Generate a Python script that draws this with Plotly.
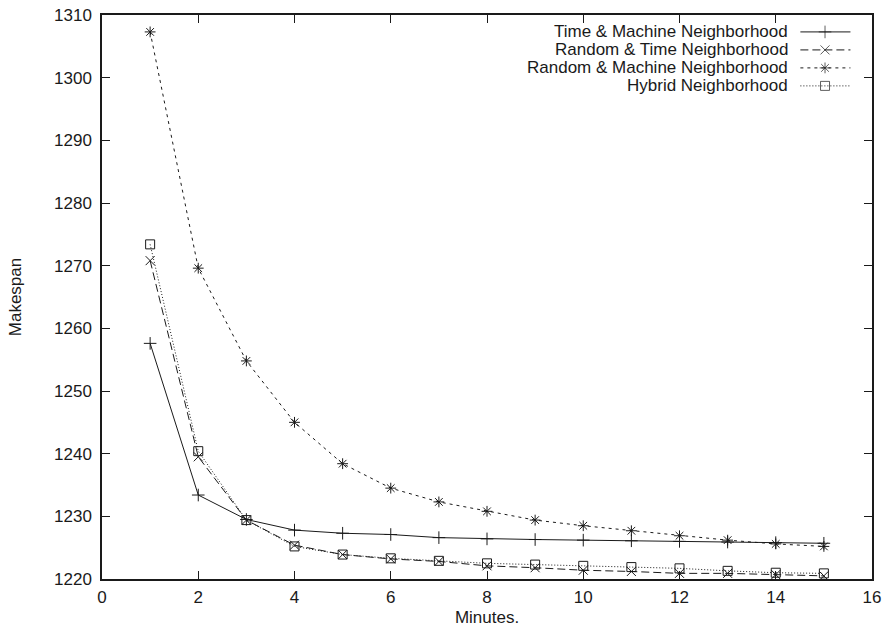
import plotly.graph_objects as go

minutes = list(range(1, 16))

time_machine = [1257.6, 1233.4, 1229.5, 1227.8, 1227.3, 1227.1, 1226.6, 1226.4,
                1226.3, 1226.2, 1226.1, 1226.0, 1225.9, 1225.8, 1225.7]
random_time = [1270.8, 1239.5, 1229.4, 1225.4, 1223.9, 1223.2, 1222.8, 1222.1,
               1221.8, 1221.4, 1221.2, 1220.9, 1220.9, 1220.7, 1220.5]
random_machine = [1307.3, 1269.6, 1254.8, 1245.0, 1238.4, 1234.5, 1232.3, 1230.8,
                  1229.4, 1228.5, 1227.7, 1226.9, 1226.2, 1225.6, 1225.2]
hybrid = [1273.4, 1240.4, 1229.4, 1225.2, 1223.9, 1223.3, 1222.9, 1222.5,
          1222.3, 1222.1, 1221.9, 1221.7, 1221.3, 1221.0, 1220.9]

series_names = ["Time & Machine Neighborhood", "Random & Time Neighborhood",
                "Random & Machine Neighborhood", "Hybrid Neighborhood"]
series_values = [time_machine, random_time, random_machine, hybrid]

x_ticks = list(range(0, 17, 2))
y_ticks = list(range(1220, 1311, 10))

INK = "#1a1a1a"
FONT = "Liberation Sans"
FS = 17
dashes = ["solid", "8px,4px", "3px,4px", "1px,2px"]
symbols = ["cross-thin-open", "x-thin-open", "asterisk-open", "square-open"]
sizes = [9, 9, 9, 9]

fig = go.Figure()
for name, vals, d, s, sz in zip(series_names, series_values, dashes, symbols, sizes):
    fig.add_trace(go.Scatter(
        x=minutes, y=vals, name=name, mode="lines+markers",
        line=dict(color=INK, width=1, dash=d),
        marker=dict(symbol=s, size=sz, color=INK, line=dict(color=INK, width=1)),
        showlegend=False,
    ))

# hand-drawn legend (text left of the sample, as in the reference)
leg_rows = [0.9700, 0.9381, 0.9062, 0.8743]
for name, yy, d, s, sz in zip(series_names, leg_rows, dashes, symbols, sizes):
    fig.add_trace(go.Scatter(
        x=[0.907, 0.939, 0.972], y=[yy, yy, yy], mode="lines+markers",
        xaxis="x2", yaxis="y2",
        line=dict(color=INK, width=1, dash=d),
        marker=dict(symbol=s, size=[0, sz, 0], color=INK, line=dict(color=INK, width=1)),
        showlegend=False, hoverinfo="skip",
    ))
    fig.add_annotation(x=0.893, y=yy, xref="paper", yref="paper", text=name,
                       showarrow=False, xanchor="right", yanchor="middle",
                       font=dict(family=FONT, size=FS, color=INK))

axis_common = dict(
    showgrid=False, zeroline=False, showline=True, linecolor=INK, linewidth=1.5,
    mirror="ticks", ticks="inside", ticklen=8, tickwidth=1.2, tickcolor=INK,
    tickfont=dict(family=FONT, size=FS, color=INK), automargin=False,
    ticklabeloverflow="allow",
)

fig.update_layout(
    width=887, height=635,
    margin=dict(l=102, r=15, t=15, b=56),
    paper_bgcolor="white", plot_bgcolor="white",
    font=dict(family=FONT, size=FS, color=INK),
    xaxis=dict(range=[0, 16], tickvals=x_ticks, ticklabelstandoff=2,
               title=dict(text="Minutes.", font=dict(family=FONT, size=FS, color=INK), standoff=5),
               **axis_common),
    yaxis=dict(range=[1220, 1310], tickvals=y_ticks, ticklabelstandoff=5,
               title=dict(text="Makespan", font=dict(family=FONT, size=FS, color=INK), standoff=28),
               **axis_common),
    xaxis2=dict(range=[0, 1], overlaying="x", visible=False, fixedrange=True),
    yaxis2=dict(range=[0, 1], overlaying="y", visible=False, fixedrange=True),
)

fig.write_html(
    "out.html",
    config={"displayModeBar": False},
    post_script="document.body.style.margin='0';document.body.style.overflow='hidden';",
)
